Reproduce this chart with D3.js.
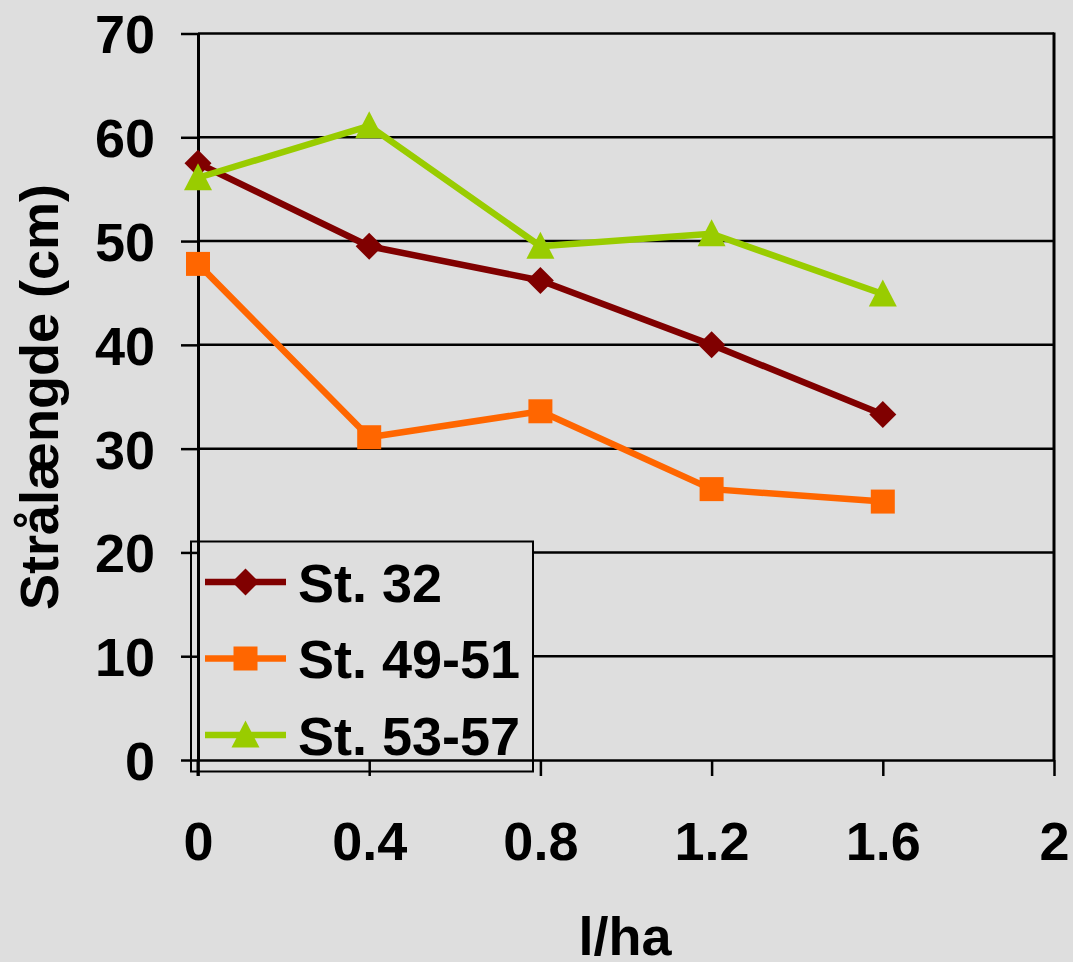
<!DOCTYPE html>
<html><head><meta charset="utf-8">
<script src="https://cdn.jsdelivr.net/npm/d3@7"></script>
<style>
html,body{margin:0;padding:0;background:#dedede;}
svg{display:block;}
text{font-family:"Liberation Sans",Arial,sans-serif;font-weight:bold;fill:#000;}
</style></head><body>
<script>
const xValues = [0, 0.4, 0.8, 1.2, 1.6];
const seriesNames = ["St. 32", "St. 49-51", "St. 53-57"];
const st32 = [57.5, 49.5, 46.2, 40.0, 33.3];
const st4951 = [47.8, 31.1, 33.6, 26.1, 24.9];
const st5357 = [56.1, 61.1, 49.5, 50.7, 44.9];
const yTicks = [0, 10, 20, 30, 40, 50, 60, 70];
const xTicks = [0, 0.4, 0.8, 1.2, 1.6, 2];
const yTitle = "Strålængde (cm)";
const xTitle = "l/ha";

const W = 1073, H = 962;
const L = 198, R = 1054, T = 33.5, B = 760;
const colors = ["#800000", "#FF6600", "#99CC00"];
const series = [st32, st4951, st5357];

// marker shapes (custom paths centred on the point)
const markerPaths = [
  "M0,-13.5L13.5,0L0,13.5L-13.5,0Z",           // diamond
  "M-12,-12L12,-12L12,12L-12,12Z",              // square
  "M0,-14.5L14,12.5L-14,12.5Z"                  // triangle
];

const svg = d3.select("body").append("svg").attr("width", W).attr("height", H);
svg.append("rect").attr("width", W).attr("height", H).attr("fill", "#dedede");

const x = d3.scaleLinear().domain([0, 2]).range([L, R]);
const y = d3.scaleLinear().domain([0, 70]).range([B, T]);

// gridlines
svg.append("g").selectAll("line").data(yTicks.filter(d => d > 0)).join("line")
  .attr("x1", L).attr("x2", R).attr("y1", d => y(d)).attr("y2", d => y(d))
  .attr("stroke", "#000").attr("stroke-width", 2.5);
// right border
svg.append("line").attr("x1", R).attr("x2", R).attr("y1", T - 1).attr("y2", B)
  .attr("stroke", "#000").attr("stroke-width", 3);

// legend box
const lg = svg.append("g");
lg.append("rect").attr("x", 191).attr("y", 541.5).attr("width", 342).attr("height", 230)
  .attr("fill", "#dedede").attr("stroke", "#000").attr("stroke-width", 2);

// axes
const yAxis = svg.append("g").attr("transform", `translate(${L},0)`)
  .call(d3.axisLeft(y).tickValues(yTicks).tickSize(17).tickSizeOuter(0).tickPadding(26));
yAxis.select(".domain").attr("stroke-width", 3);
yAxis.selectAll(".tick line").attr("stroke-width", 2.5);
yAxis.selectAll(".tick text").attr("font-size", 54).attr("dy", "0.36em")
  .style("font-family", '"Liberation Sans", Arial, sans-serif').style("font-weight", "bold");
svg.append("line").attr("x1", L).attr("x2", L).attr("y1", B).attr("y2", B + 16)
  .attr("stroke", "#000").attr("stroke-width", 3);

const xAxis = svg.append("g").attr("transform", `translate(0,${B})`)
  .call(d3.axisBottom(x).tickValues(xTicks).tickSize(16).tickSizeOuter(0).tickPadding(46)
    .tickFormat(d3.format("")));
xAxis.select(".domain").attr("stroke-width", 2.5);
xAxis.selectAll(".tick line").attr("stroke-width", 2.5);
xAxis.selectAll(".tick text").attr("font-size", 54)
  .style("font-family", '"Liberation Sans", Arial, sans-serif').style("font-weight", "bold");
yAxis.selectAll("text").attr("fill", "#000");
xAxis.selectAll("text").attr("fill", "#000");

// series
series.forEach((vals, i) => {
  const pts = xValues.map((xv, j) => [xv, vals[j]]);
  svg.append("path").datum(pts)
    .attr("d", d3.line().x(d => x(d[0])).y(d => y(d[1])))
    .attr("fill", "none").attr("stroke", colors[i]).attr("stroke-width", 6.5)
    .attr("stroke-linejoin", "round");
  svg.append("g").selectAll("path").data(pts).join("path")
    .attr("transform", d => `translate(${x(d[0])},${y(d[1])})`)
    .attr("d", markerPaths[i])
    .attr("fill", colors[i]);
});

// legend entries
const legY = [582, 658.5, 735];
seriesNames.forEach((name, i) => {
  lg.append("line").attr("x1", 205).attr("x2", 286).attr("y1", legY[i]).attr("y2", legY[i])
    .attr("stroke", colors[i]).attr("stroke-width", 6.5);
  lg.append("path").attr("transform", `translate(245.5,${legY[i]})`)
    .attr("d", markerPaths[i]).attr("fill", colors[i]);
  lg.append("text").attr("x", 298).attr("y", legY[i] + 19.5).attr("font-size", 54).text(name);
});

// titles
svg.append("text").attr("transform", "translate(58,397) rotate(-90)")
  .attr("text-anchor", "middle").attr("font-size", 54).text(yTitle);
svg.append("text").attr("x", 625).attr("y", 955)
  .attr("text-anchor", "middle").attr("font-size", 54).text(xTitle);
</script>
</body></html>
